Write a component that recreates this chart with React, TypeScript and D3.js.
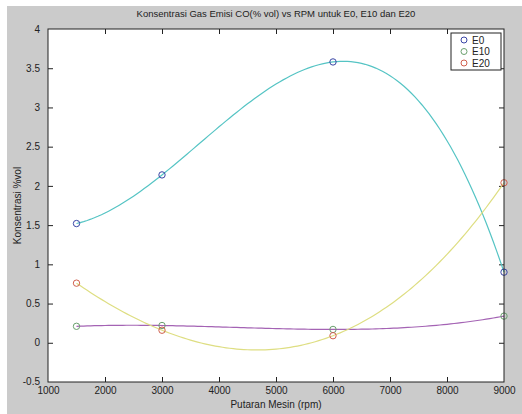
import React, { useEffect, useRef } from "react";
import * as d3 from "d3";

// rpm points
const rpm = [1500, 3000, 6000, 9000];
// CO concentration (% vol)
const e0 = [1.52, 2.14, 3.58, 0.9];
const e10 = [0.21, 0.22, 0.17, 0.34];
const e20 = [0.76, 0.16, 0.09, 2.04];
const seriesNames = ["E0", "E10", "E20"];
const xTicks = [1000, 2000, 3000, 4000, 5000, 6000, 7000, 8000, 9000];
const yTicks = [-0.5, 0, 0.5, 1, 1.5, 2, 2.5, 3, 3.5, 4];

const lineColors = ["#55c4c4", "#a463b4", "#dede82"];
const markColors = ["#3a46a6", "#6aa06e", "#d0604e"];

const W = 522, H = 414;
const margin = { top: 29, right: 18, bottom: 32, left: 48 };

// curve factory: one polynomial through all points (like polyfit/polyval in matlab)
function curvePoly(context: any) {
  let xs: number[] = [];
  let ys: number[] = [];
  return {
    areaStart() {},
    areaEnd() {},
    lineStart() { xs = []; ys = []; },
    point(px: number, py: number) { xs.push(+px); ys.push(+py); },
    lineEnd() {
      const n = xs.length;
      if (!n) return;
      const f = (t: number) => {
        let s = 0;
        for (let i = 0; i < n; i++) {
          let l = 1;
          for (let j = 0; j < n; j++) if (j !== i) l *= (t - xs[j]) / (xs[i] - xs[j]);
          s += ys[i] * l;
        }
        return s;
      };
      const steps = 120;
      for (let k = 0; k <= steps; k++) {
        const t = xs[0] + (xs[n - 1] - xs[0]) * (k / steps);
        if (k === 0) context.moveTo(t, f(t));
        else context.lineTo(t, f(t));
      }
    },
  };
}

export default function App() {
  const ref = useRef<SVGSVGElement | null>(null);

  useEffect(() => {
    const svg = d3.select(ref.current);
    svg.selectAll("*").remove();

    const width = W - margin.left - margin.right;
    const height = H - margin.top - margin.bottom;

    svg.append("rect")
      .attr("x", 7).attr("y", 6)
      .attr("width", W - 7).attr("height", H - 6)
      .attr("fill", "#cbcbcb");

    const g = svg.append("g")
      .attr("transform", "translate(" + margin.left + "," + margin.top + ")");

    const x = d3.scaleLinear().domain([1000, 9000]).range([0, width]);
    const y = d3.scaleLinear().domain([-0.5, 4]).range([height, 0]);

    g.append("rect")
      .attr("width", width).attr("height", height)
      .attr("fill", "#ffffff");

    const fmt = (d: any) => String(d);

    // bottom + top axes, ticks pointing inward
    const xb = g.append("g")
      .attr("transform", "translate(0," + height + ")")
      .call(d3.axisBottom(x).tickValues(xTicks).tickSize(-5).tickPadding(5).tickFormat(fmt));
    const xt = g.append("g")
      .call(d3.axisTop(x).tickValues(xTicks).tickSize(-5).tickFormat(() => ""));
    const yl = g.append("g")
      .call(d3.axisLeft(y).tickValues(yTicks).tickSize(-5).tickPadding(8).tickFormat(fmt));
    const yr = g.append("g")
      .attr("transform", "translate(" + width + ",0)")
      .call(d3.axisRight(y).tickValues(yTicks).tickSize(-5).tickFormat(() => ""));

    [xb, xt, yl, yr].forEach((a) => {
      a.select(".domain").remove();
      a.selectAll(".tick line").attr("stroke", "#222");
      a.selectAll(".tick text")
        .attr("fill", "#222")
        .style("font-family", "Liberation Sans, Arial, sans-serif")
        .style("font-size", "10px");
    });
    // no tick marks at the corners
    xb.selectAll(".tick line").filter((d: any) => d === 1000 || d === 9000).remove();
    xt.selectAll(".tick line").filter((d: any) => d === 1000 || d === 9000).remove();
    yl.selectAll(".tick line").filter((d: any) => d === -0.5 || d === 4).remove();
    yr.selectAll(".tick line").filter((d: any) => d === -0.5 || d === 4).remove();
    yl.selectAll(".tick text").filter((d: any) => d === -0.5).attr("dy", "0.2em");

    const line = d3.line<number>()
      .x((d, i) => x(rpm[i]))
      .y((d) => y(d))
      .curve(curvePoly as any);

    const all = [e0, e10, e20];
    all.forEach((vals, k) => {
      g.append("path")
        .datum(vals)
        .attr("fill", "none")
        .attr("stroke", lineColors[k])
        .attr("stroke-width", 1.2)
        .attr("d", line);
    });
    all.forEach((vals, k) => {
      g.append("g")
        .selectAll("circle")
        .data(vals)
        .enter()
        .append("circle")
        .attr("cx", (d, i) => x(rpm[i]))
        .attr("cy", (d) => y(d))
        .attr("r", 3.2)
        .attr("fill", "none")
        .attr("stroke", markColors[k])
        .attr("stroke-width", 1);
    });

    g.append("rect")
      .attr("width", width).attr("height", height)
      .attr("fill", "none")
      .attr("stroke", "#222")
      .attr("stroke-width", 1);

    // legend
    const lg = svg.append("g").attr("transform", "translate(451,33)");
    lg.append("rect")
      .attr("width", 50).attr("height", 37)
      .attr("fill", "#ffffff")
      .attr("stroke", "#222");
    seriesNames.forEach((name, k) => {
      const yy = 7 + k * 11.5;
      lg.append("circle")
        .attr("cx", 13).attr("cy", yy)
        .attr("r", 3)
        .attr("fill", "none")
        .attr("stroke", markColors[k]);
      lg.append("text")
        .attr("x", 21).attr("y", yy + 3.5)
        .attr("fill", "#222")
        .style("font-family", "Liberation Sans, Arial, sans-serif")
        .style("font-size", "10px")
        .text(name);
    });

    svg.append("text")
      .attr("x", margin.left + width / 2).attr("y", 17)
      .attr("text-anchor", "middle")
      .attr("fill", "#222")
      .style("font-family", "Liberation Sans, Arial, sans-serif")
      .style("font-size", "9.5px")
      .text("Konsentrasi Gas Emisi CO(% vol) vs RPM untuk E0, E10 dan E20");

    svg.append("text")
      .attr("x", margin.left + width / 2).attr("y", 408)
      .attr("text-anchor", "middle")
      .attr("fill", "#222")
      .style("font-family", "Liberation Sans, Arial, sans-serif")
      .style("font-size", "10px")
      .text("Putaran Mesin (rpm)");

    svg.append("text")
      .attr("transform", "translate(21," + (margin.top + height / 2) + ") rotate(-90)")
      .attr("text-anchor", "middle")
      .attr("fill", "#222")
      .style("font-family", "Liberation Sans, Arial, sans-serif")
      .style("font-size", "10px")
      .text("Konsentrasi %vol");
  }, []);

  return (
    <div style={{ position: "absolute", left: 0, top: 0 }}>
      <svg ref={ref} width={W} height={H} style={{ display: "block", background: "#ffffff" }} />
    </div>
  );
}
